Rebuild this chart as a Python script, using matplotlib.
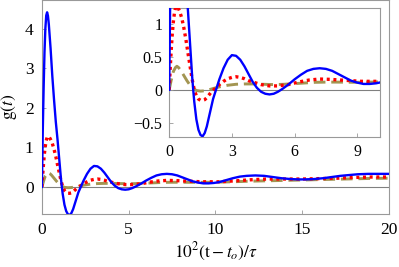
import matplotlib
matplotlib.use("Agg")
import matplotlib.pyplot as plt

plt.rcParams['font.family'] = ['Liberation Serif', 'DejaVu Serif']
plt.rcParams['mathtext.fontset'] = 'stix'

# values
x_blue = [0, 0.05, 0.1, 0.15, 0.2, 0.25, 0.3, 0.35, 0.4, 0.5, 0.6, 0.7, 0.8, 0.9,
          1.0, 1.1, 1.15, 1.2, 1.3, 1.4, 1.5, 1.6, 1.7, 1.8, 1.9, 2.0, 2.1, 2.2,
          2.3, 2.4, 2.6, 2.8, 3.0, 3.2, 3.4, 3.6, 3.8, 4.0, 4.2, 4.4, 4.6, 4.8,
          5.0, 5.2, 5.4, 5.7, 6.0, 6.3, 6.6, 6.9, 7.2, 7.5, 7.8, 8.1, 8.4, 8.7,
          9.0, 9.3, 9.6, 9.9, 10.2, 10.6, 11.0, 11.4, 11.8, 12.3, 12.8, 13.3,
          13.8, 14.3, 14.8, 15.2, 15.7, 16.2, 16.7, 17.2, 17.7, 18.2, 18.8,
          19.4, 20]
y_blue = [0, 1.4, 2.5, 3.4, 4.0, 4.33, 4.41, 4.32, 4.1, 3.5, 2.8, 2.2, 1.65, 1.2,
          0.7, 0.2, 0.0, -0.18, -0.45, -0.61, -0.69, -0.71, -0.66, -0.56, -0.42,
          -0.28, -0.14, -0.04, 0.06, 0.16, 0.33, 0.46, 0.53, 0.52, 0.46, 0.36,
          0.24, 0.12, 0.03, -0.03, -0.06, -0.07, -0.06, -0.03, 0.01, 0.08, 0.16,
          0.23, 0.29, 0.32, 0.33, 0.32, 0.29, 0.24, 0.19, 0.14, 0.11, 0.09,
          0.09, 0.10, 0.12, 0.17, 0.22, 0.26, 0.28, 0.29, 0.28, 0.25, 0.22,
          0.20, 0.19, 0.19, 0.20, 0.22, 0.25, 0.28, 0.30, 0.32, 0.33, 0.33, 0.33]

x_red = [0, 0.05, 0.1, 0.15, 0.2, 0.25, 0.3, 0.36, 0.42, 0.5, 0.6, 0.7, 0.8, 0.9,
         1.0, 1.1, 1.2, 1.3, 1.4, 1.5, 1.6, 1.7, 1.8, 1.9, 2.0, 2.2, 2.4, 2.6,
         2.8, 3.0, 3.2, 3.4, 3.6, 3.8, 4.0, 4.4, 4.8, 5.2, 5.7, 6.2, 6.7, 7.2,
         7.7, 8.2, 8.7, 9.2, 9.7, 10.2, 11, 12, 13, 14, 15, 16, 17, 18, 19, 20]
y_red = [0, 0.33, 0.62, 0.86, 1.04, 1.17, 1.25, 1.28, 1.26, 1.2, 1.1, 0.95, 0.77,
         0.56, 0.36, 0.16, 0.0, -0.09, -0.14, -0.16, -0.16, -0.15, -0.12, -0.08,
         -0.04, 0.02, 0.08, 0.13, 0.17, 0.19, 0.20, 0.19, 0.17, 0.14, 0.12,
         0.08, 0.06, 0.06, 0.08, 0.12, 0.15, 0.165, 0.16, 0.15, 0.14, 0.13,
         0.13, 0.13, 0.15, 0.18, 0.20, 0.20, 0.20, 0.21, 0.22, 0.24, 0.25, 0.25]

x_olive = [0, 0.1, 0.2, 0.3, 0.37, 0.45, 0.55, 0.7, 0.85, 1.0, 1.15, 1.3, 1.5,
           1.7, 1.9, 2.1, 2.4, 2.8, 3.2, 3.6, 4.0, 4.5, 5.0, 5.5, 6.0, 6.5, 7.0,
           7.5, 8.0, 9.0, 10, 11, 12, 13, 14, 15, 16, 17, 18, 19, 20]
y_olive = [0, 0.15, 0.28, 0.34, 0.36, 0.34, 0.30, 0.22, 0.14, 0.07, 0.02, -0.01,
           -0.02, -0.015, 0.0, 0.02, 0.045, 0.07, 0.085, 0.09, 0.09, 0.085,
           0.08, 0.085, 0.095, 0.105, 0.115, 0.118, 0.118, 0.115, 0.12, 0.13,
           0.145, 0.155, 0.165, 0.175, 0.185, 0.195, 0.205, 0.215, 0.22]

main_xticks = [0, 5, 10, 15, 20]
main_yticks = [0, 1, 2, 3, 4]
inset_xticks = [0, 3, 6, 9]
inset_yticks = [-0.5, 0, 0.5, 1]

BLUE = '#0000ff'
RED = '#ff0000'
OLIVE = '#a39552'
FRAME = '#999999'


def draw(ax):
    ax.axhline(0, color='#808080', lw=0.8, zorder=1)
    ax.plot(x_olive, y_olive, color=OLIVE, lw=2.1, dashes=(4, 2), zorder=2)
    ax.plot(x_red, y_red, color=RED, lw=2.4, dashes=(0.9, 1.1), zorder=3)
    ax.plot(x_blue, y_blue, color=BLUE, lw=1.7, zorder=4)
    for s in ax.spines.values():
        s.set_color(FRAME)
        s.set_linewidth(0.8)
    ax.tick_params(direction='in', color=FRAME, length=3, width=0.6,
                   top=False, right=False)


fig = plt.figure(figsize=(3.99, 2.67), dpi=100)
ax = fig.add_axes([0.105, 0.199, 0.87, 0.801])
draw(ax)
ax.set_xlim(0, 20)
ax.set_ylim(-0.68, 4.72)
ax.set_xticks(main_xticks)
ax.set_yticks(main_yticks)
ax.tick_params(labelsize=12.5, pad=6)
ax.set_xlabel(r'$10^2(\mathrm{t}-t_o)/\tau$', fontsize=12.5, labelpad=2)
ax.set_ylabel(r'$\mathrm{g}(t)$', fontsize=12.5, labelpad=4)

ins = fig.add_axes([0.424, 0.487, 0.528, 0.483])
draw(ins)
ins.set_xlim(0, 10.08)
ins.set_ylim(-0.72, 1.25)
ins.set_xticks(inset_xticks)
ins.set_yticks(inset_yticks)
ins.set_yticklabels(['\u22120.5', '0', '0.5', '1'])
ins.tick_params(labelsize=11.5, pad=5)

fig.savefig('out.png', dpi=100)
